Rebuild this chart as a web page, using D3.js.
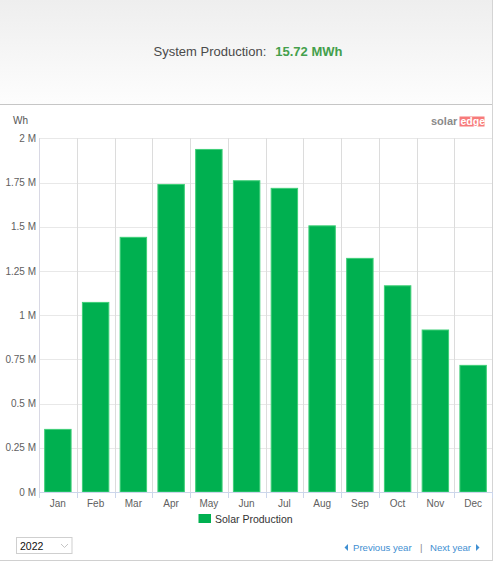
<!DOCTYPE html>
<html>
<head>
<meta charset="utf-8">
<script src="https://cdn.jsdelivr.net/npm/d3@7"></script>
<style>
  body { margin: 0; background: #fff; }
  text { font-family: "Liberation Sans", Arial, sans-serif; }
</style>
</head>
<body>
<svg id="chart" width="495" height="563"></svg>
<script>
// data (Wh)
const months = ["Jan", "Feb", "Mar", "Apr", "May", "Jun", "Jul", "Aug", "Sep", "Oct", "Nov", "Dec"];
const production = [354000, 1072000, 1440000, 1739000, 1937000, 1760000, 1717000, 1505000, 1321000, 1166000, 916000, 716000];
const yTicks = [0, 250000, 500000, 750000, 1000000, 1250000, 1500000, 1750000, 2000000];
const totalLabel = "15.72 MWh";
const seriesName = "Solar Production";
const yearLabel = "2022";

const svg = d3.select("#chart");

// header background
const defs = svg.append("defs");
const grad = defs.append("linearGradient").attr("id", "hdr").attr("x1", 0).attr("y1", 0).attr("x2", 0).attr("y2", 1);
grad.append("stop").attr("offset", "0%").attr("stop-color", "#eeeeee");
grad.append("stop").attr("offset", "100%").attr("stop-color", "#fdfdfd");
svg.append("rect").attr("x", 0).attr("y", 0).attr("width", 492).attr("height", 104).attr("fill", "url(#hdr)");
svg.append("line").attr("x1", 0).attr("x2", 492).attr("y1", 104.5).attr("y2", 104.5).attr("stroke", "#c6c6c6");
svg.append("line").attr("x1", 492.5).attr("x2", 492.5).attr("y1", 0).attr("y2", 561).attr("stroke", "#d4d4d4");
svg.append("line").attr("x1", 0).attr("x2", 492).attr("y1", 560.5).attr("y2", 560.5).attr("stroke", "#d0d0d0");

// title
const title = svg.append("text").attr("y", 56).attr("text-anchor", "middle").attr("x", 248).style("font-size", "13px");
title.append("tspan").attr("fill", "#4a4a4a").text("System Production:");
title.append("tspan").attr("dx", 9).attr("fill", "#44a04c").style("font-weight", "bold").text(totalLabel);

// scales
const plotLeft = 39, plotRight = 492, plotTop = 138.3, plotBottom = 492;
const x = d3.scaleBand().domain(months).range([plotLeft, plotRight]).paddingInner(0.3).paddingOuter(0.15);
const y = d3.scaleLinear().domain([0, 2000000]).range([plotBottom, plotTop]);
const step = x.step();
const edge = m => x(m) - step * 0.15;

// horizontal grid
svg.append("g").selectAll("line").data(yTicks).join("line")
  .attr("x1", plotLeft).attr("x2", plotRight)
  .attr("y1", d => Math.round(y(d)) + 0.5).attr("y2", d => Math.round(y(d)) + 0.5)
  .attr("stroke", "#e8e8e8");

// vertical grid at category boundaries
svg.append("g").selectAll("line").data(months).join("line")
  .attr("x1", d => Math.round(edge(d)) + 0.5).attr("x2", d => Math.round(edge(d)) + 0.5)
  .attr("y1", plotTop).attr("y2", plotBottom)
  .attr("stroke", "#dcdcdc");

// bars
svg.append("g").selectAll("rect").data(production).join("rect")
  .attr("x", (d, i) => x(months[i]))
  .attr("y", d => y(d))
  .attr("width", x.bandwidth())
  .attr("height", d => plotBottom - y(d))
  .attr("fill", "#00b050")
  .attr("stroke", "#3fcf78")
  .attr("stroke-width", 1);

// axes
const yAxis = d3.axisLeft(y).tickValues(yTicks).tickSize(0).tickPadding(3)
  .tickFormat(d => (d / 1e6) + " M");
const gy = svg.append("g").attr("transform", `translate(${plotLeft},0)`).call(yAxis);
gy.select(".domain").attr("stroke", "#d8d8e4");
gy.selectAll("text").attr("fill", "#606060").style("font-size", "10px").style("font-family", "'Liberation Sans', Arial, sans-serif");

const xAxis = d3.axisBottom(x).tickSize(0).tickPadding(8);
const gx = svg.append("g").attr("transform", `translate(0,${plotBottom})`).call(xAxis);
gx.select(".domain").attr("stroke", "#ccd6eb");
gx.selectAll("text").attr("fill", "#606060").style("font-size", "10px").style("font-family", "'Liberation Sans', Arial, sans-serif");

// x tick marks at boundaries
svg.append("g").selectAll("line").data(months.concat(["end"])).join("line")
  .attr("x1", (d, i) => Math.round(plotLeft + i * step) + 0.5)
  .attr("x2", (d, i) => Math.round(plotLeft + i * step) + 0.5)
  .attr("y1", plotBottom).attr("y2", plotBottom + 6)
  .attr("stroke", "#ccd6eb");

// unit label
svg.append("text").attr("x", 13).attr("y", 124).attr("fill", "#555").style("font-size", "10px").text("Wh");

// logo
svg.append("text").attr("x", 431).attr("y", 125).attr("fill", "#8a8a8a")
  .style("font-size", "11px").style("font-weight", "bold").text("solar");
svg.append("rect").attr("x", 459.5).attr("y", 116.5).attr("width", 25).attr("height", 10).attr("fill", "#f77b7b");
svg.append("text").attr("x", 460.5).attr("y", 125).attr("fill", "#fff")
  .style("font-size", "10.5px").style("font-weight", "bold").text("edge");

// legend
svg.append("rect").attr("x", 198.5).attr("y", 514).attr("width", 12.5).attr("height", 9).attr("fill", "#00b050");
svg.append("text").attr("x", 215).attr("y", 522.5).attr("fill", "#333").style("font-size", "10.5px").text(seriesName);

// year select
svg.append("rect").attr("x", 16.5).attr("y", 537.5).attr("width", 55.5).attr("height", 16)
  .attr("fill", "#fff").attr("stroke", "#cfcfcf");
svg.append("text").attr("x", 20).attr("y", 549.5).attr("fill", "#111").style("font-size", "10.5px").text(yearLabel);
svg.append("path").attr("d", "M61,544 L64.5,547.5 L68,544").attr("fill", "none").attr("stroke", "#c4c4c4");

// year navigation
const navColor = "#3f8fd2";
svg.append("path").attr("d", "M348,544 L344.5,547.5 L348,551 Z").attr("fill", navColor);
svg.append("text").attr("x", 353).attr("y", 551).attr("fill", navColor).style("font-size", "9.6px").text("Previous year");
svg.append("text").attr("x", 420).attr("y", 551).attr("fill", "#888").style("font-size", "9.6px").text("|");
svg.append("text").attr("x", 430).attr("y", 551).attr("fill", navColor).style("font-size", "9.6px").text("Next year");
svg.append("path").attr("d", "M476,544 L479.5,547.5 L476,551 Z").attr("fill", navColor);
</script>
</body>
</html>
